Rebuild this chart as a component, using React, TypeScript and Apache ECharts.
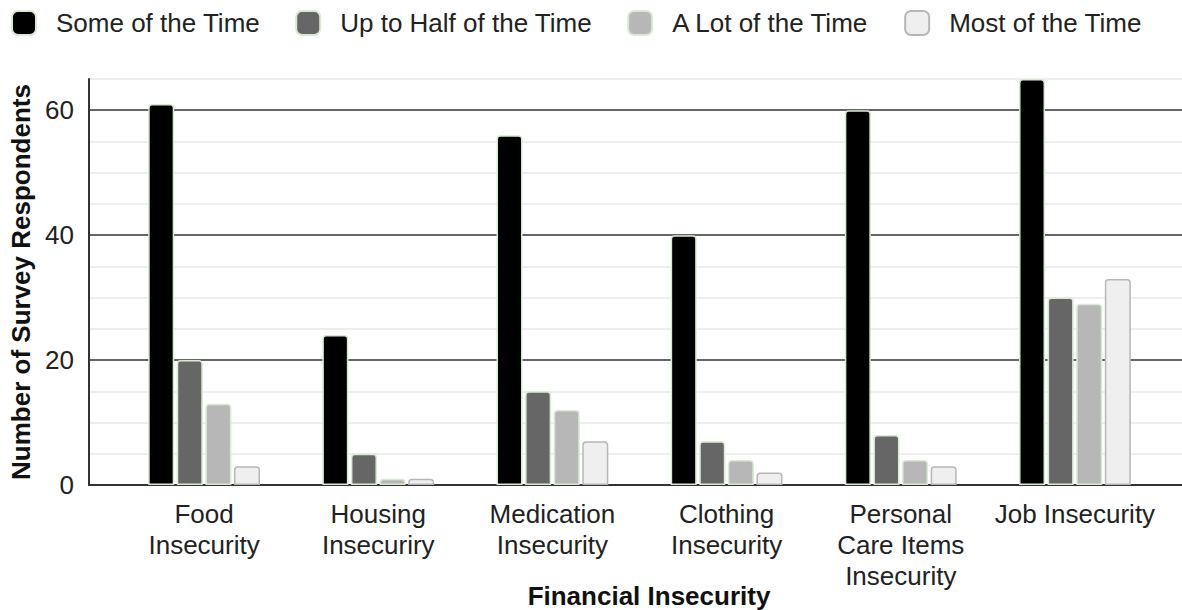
import React, { useEffect, useRef } from "react";
import * as echarts from "echarts";

const categories = [
  "Food\nInsecurity",
  "Housing\nInsecuriry",
  "Medication\nInsecurity",
  "Clothing\nInsecurity",
  "Personal\nCare Items\nInsecurity",
  "Job Insecurity",
];
const seriesNames = [
  "Some of the Time",
  "Up to Half of the Time",
  "A Lot of the Time",
  "Most of the Time",
];
const someOfTheTime = [61, 24, 56, 40, 60, 65];
const upToHalf = [20, 5, 15, 7, 8, 30];
const aLot = [13, 1, 12, 4, 4, 29];
const mostOfTime = [3, 1, 7, 2, 3, 33];
const yMin = 0;
const yMax = 65;
const yMajorStep = 20;
const yMinorStep = 5;

const fills = ["#000000", "#666666", "#b7b7b7", "#efefef"];
const borders = ["#d9ead3", "#d9ead3", "#d9ead3", "#b7b7b7"];
const FONT = "Liberation Sans, Arial, sans-serif";
const FS = 26;

export default function App() {
  const ref = useRef<HTMLDivElement>(null);
  useEffect(() => {
    if (!ref.current) return;
    const chart = echarts.init(ref.current, undefined, { renderer: "svg" });
    const values = [someOfTheTime, upToHalf, aLot, mostOfTime];
    const gridTop = 79;
    const gridBottom = 125;
    chart.setOption({
      animation: false,
      textStyle: { fontFamily: FONT },
      legend: {
        top: 10,
        left: 11,
        padding: 0,
        icon: "roundRect",
        itemWidth: 24,
        itemHeight: 24,
        itemGap: 35,
        textStyle: { fontSize: FS, color: "#222", fontFamily: FONT, padding: [0, 0, 0, 15] },
        data: seriesNames,
      },
      grid: [
        { left: 87, right: 0, top: gridTop, bottom: gridBottom },
        { left: 117, right: 20, top: gridTop, bottom: gridBottom },
      ],
      xAxis: [
        {
          type: "value",
          gridIndex: 0,
          min: 0,
          max: 1,
          axisLine: { show: true, onZero: false, lineStyle: { color: "#333", width: 2 } },
          axisTick: { show: false },
          axisLabel: { show: false },
          splitLine: { show: false },
        },
        {
          type: "category",
          gridIndex: 1,
          data: categories,
          axisLine: { show: false },
          axisTick: { show: false },
          axisLabel: {
            fontSize: FS,
            color: "#222",
            lineHeight: 31,
            margin: 13,
            fontFamily: FONT,
            interval: 0,
          },
        },
      ],
      yAxis: [
        {
          type: "value",
          gridIndex: 0,
          min: yMin,
          max: yMax,
          interval: yMinorStep,
          name: "Number of Survey Respondents",
          nameLocation: "middle",
          nameGap: 55,
          nameTextStyle: { fontSize: FS, fontWeight: "bold", color: "#111", fontFamily: FONT },
          axisLine: { show: true, lineStyle: { color: "#333", width: 2 } },
          axisTick: { show: false },
          axisLabel: {
            fontSize: FS,
            color: "#222",
            margin: 15,
            fontFamily: FONT,
            formatter: (v: number) => (v % yMajorStep === 0 ? String(v) : ""),
          },
          splitLine: {
            show: true,
            lineStyle: { color: ["#666666", "#eeeeee", "#eeeeee", "#eeeeee"], width: 1.8 },
          },
        },
        {
          type: "value",
          gridIndex: 1,
          min: yMin,
          max: yMax,
          show: false,
          splitLine: { show: false },
        },
      ],
      series: seriesNames.map((name, i) => ({
        name,
        type: "bar",
        xAxisIndex: 1,
        yAxisIndex: 1,
        data: values[i],
        barWidth: 26,
        barGap: "10%",
        itemStyle: {
          color: fills[i],
          borderColor: borders[i],
          borderWidth: 1.5,
          borderRadius: [3, 3, 0, 0],
        },
      })),
      graphic: [
        {
          type: "text",
          x: 649,
          y: 596,
          style: {
            text: "Financial Insecurity",
            fontSize: FS,
            fontWeight: "bold",
            fill: "#111",
            fontFamily: FONT,
            align: "center",
            verticalAlign: "middle",
          },
        },
      ],
    });
    return () => chart.dispose();
  }, []);
  return (
    <div
      ref={ref}
      style={{ position: "fixed", left: 0, top: 0, width: 1182, height: 610, background: "#fff" }}
    />
  );
}
